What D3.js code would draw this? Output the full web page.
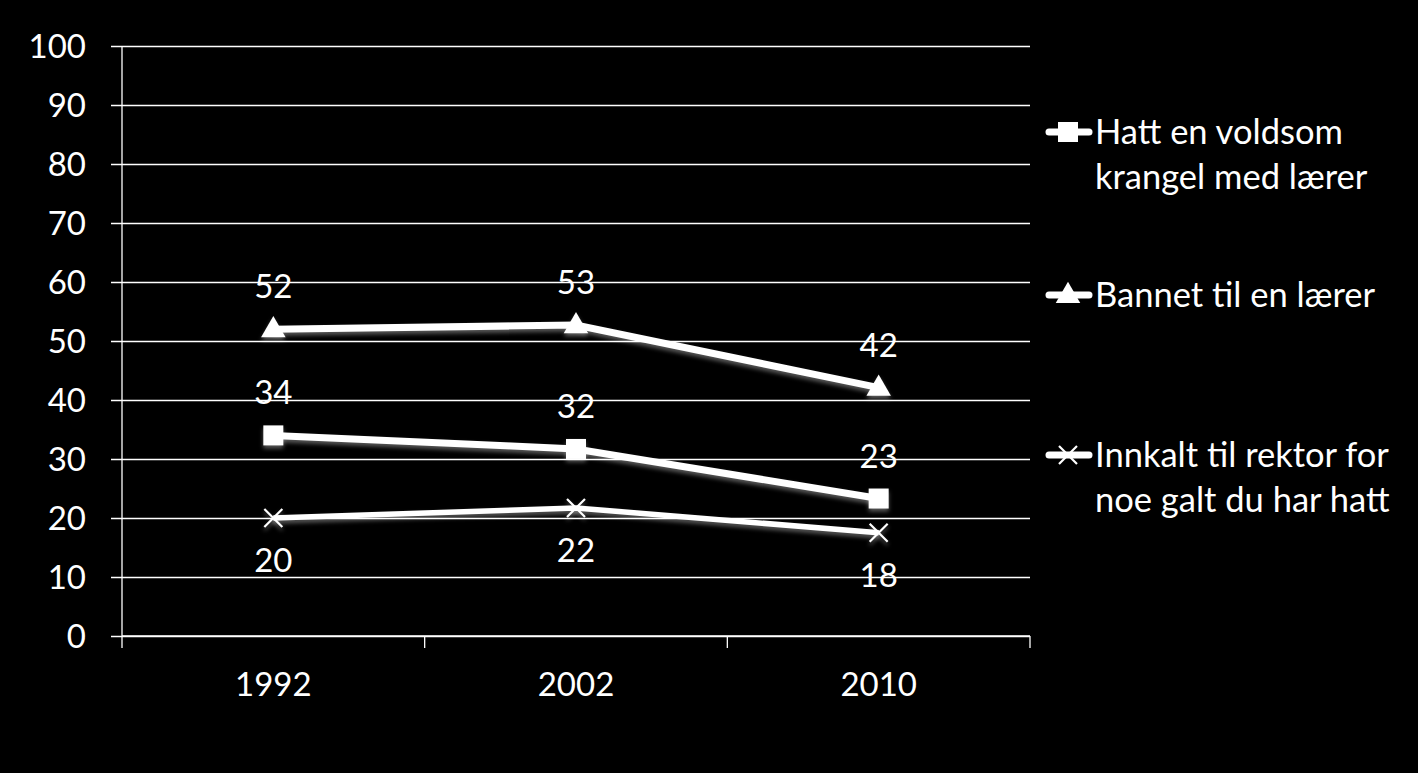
<!DOCTYPE html>
<html>
<head>
<meta charset="utf-8">
<script src="https://cdn.jsdelivr.net/npm/d3@7"></script>
<style>
  body { margin: 0; background: #000; }
  svg { display: block; }
  text { font-family: Lato, "Open Sans", sans-serif; fill: #fff; }
</style>
</head>
<body>
<div id="chart"></div>
<script>
// data
const years = ["1992", "2002", "2010"];
const krangel = [34, 31.7, 23.3];
const bannet = [52, 52.7, 42.1];
const innkalt = [20, 21.7, 17.5];
const seriesNames = [["Hatt en voldsom", "krangel med lærer"], ["Bannet til en lærer"], ["Innkalt til rektor for", "noe galt du har hatt"]];
const yTicks = [0, 10, 20, 30, 40, 50, 60, 70, 80, 90, 100];

const width = 1418, height = 773;
const margin = {left: 122, top: 46, right: 388, bottom: 137};
const w = width - margin.left - margin.right;
const h = height - margin.top - margin.bottom;

const svg = d3.select("#chart").append("svg")
    .attr("width", width).attr("height", height);
svg.append("rect").attr("width", width).attr("height", height).attr("fill", "#000");

const defs = svg.append("defs");
const f = defs.append("filter").attr("id", "glow").attr("x", "-50%").attr("y", "-50%").attr("width", "200%").attr("height", "200%");
f.append("feDropShadow").attr("dx", 0).attr("dy", 3).attr("stdDeviation", 2).attr("flood-color", "#fff").attr("flood-opacity", 0.35);

const g = svg.append("g").attr("transform", `translate(${margin.left},${margin.top})`);

let x = d3.scaleBand().domain(years).range([0, w]);
let y = d3.scaleLinear().domain([0, 100]).range([h, 0]);

// grid + y axis
g.append("g")
    .call(d3.axisLeft(y).tickValues(yTicks).tickSize(-w).tickPadding(36))
    .call(a => a.select(".domain").remove())
    .call(a => a.selectAll(".tick line").attr("stroke", "#fff").attr("stroke-width", 1.3).attr("x1", -11))
    .call(a => a.selectAll(".tick text").attr("fill", "#fff").style("font-size", "33px").attr("dy", "0.36em"));

g.append("line").attr("x1", 0).attr("x2", 0).attr("y1", 0).attr("y2", h)
    .attr("stroke", "#fff").attr("stroke-width", 1.3);

// x axis
const xa = g.append("g").attr("transform", `translate(0,${h})`);
xa.append("line").attr("x1", 0).attr("x2", w).attr("stroke", "#fff").attr("stroke-width", 1.3);
const bounds = years.map(d => x(d)).concat([w]);
xa.selectAll(".xt").data(bounds).enter().append("line")
    .attr("x1", d => d).attr("x2", d => d).attr("y1", 0).attr("y2", 12)
    .attr("stroke", "#fff").attr("stroke-width", 1.3);
xa.selectAll(".xl").data(years).enter().append("text")
    .attr("x", d => x(d) + x.bandwidth() / 2).attr("y", 60)
    .attr("text-anchor", "middle").style("font-size", "33px").text(d => d);

const series = [
  {vals: krangel, marker: "square", label: "above"},
  {vals: bannet, marker: "triangle", label: "above"},
  {vals: innkalt, marker: "x", label: "below"}
];

const line = d3.line().x((d, i) => x(years[i]) + x.bandwidth() / 2).y(d => y(d));

function drawMarker(sel, type) {
  if (type === "square") {
    sel.append("rect").attr("x", -10).attr("y", -10).attr("width", 20).attr("height", 20).attr("fill", "#fff");
  } else if (type === "triangle") {
    sel.append("path").attr("d", d3.symbol(d3.symbolTriangle, 260)()).attr("fill", "#fff").attr("transform", "translate(0,1)");
  } else {
    sel.append("path").attr("d", "M-9,-9L9,9M-9,9L9,-9").attr("stroke", "#fff").attr("stroke-width", 2.2);
  }
}

series.forEach(s => {
  g.append("path").datum(s.vals).attr("d", line)
      .attr("fill", "none").attr("stroke", "#fff").attr("stroke-width", s.marker === "x" ? 5.5 : 7)
      .attr("filter", "url(#glow)");
  s.vals.forEach((v, i) => {
    const cx = x(years[i]) + x.bandwidth() / 2, cy = y(v);
    const m = g.append("g").attr("transform", `translate(${cx},${cy})`).attr("filter", "url(#glow)");
    drawMarker(m, s.marker);
    g.append("text").attr("x", cx).attr("y", s.label === "above" ? cy - 31 : cy + 54)
        .attr("text-anchor", "middle").style("font-size", "33px").text(Math.round(v));
  });
});

// legend
const legY = [132, 295, 455];
series.forEach((s, i) => {
  const lg = svg.append("g").attr("transform", `translate(1068,${legY[i]})`);
  lg.append("line").attr("x1", -19).attr("x2", 21).attr("stroke", "#fff").attr("stroke-width", 7).attr("stroke-linecap", "round");
  drawMarker(lg, s.marker);
  seriesNames[i].forEach((t, j) => {
    lg.append("text").attr("x", 27).attr("y", j * 45).attr("dy", "0.35em")
        .style("font-size", "34.5px").text(t);
  });
});
</script>
</body>
</html>
